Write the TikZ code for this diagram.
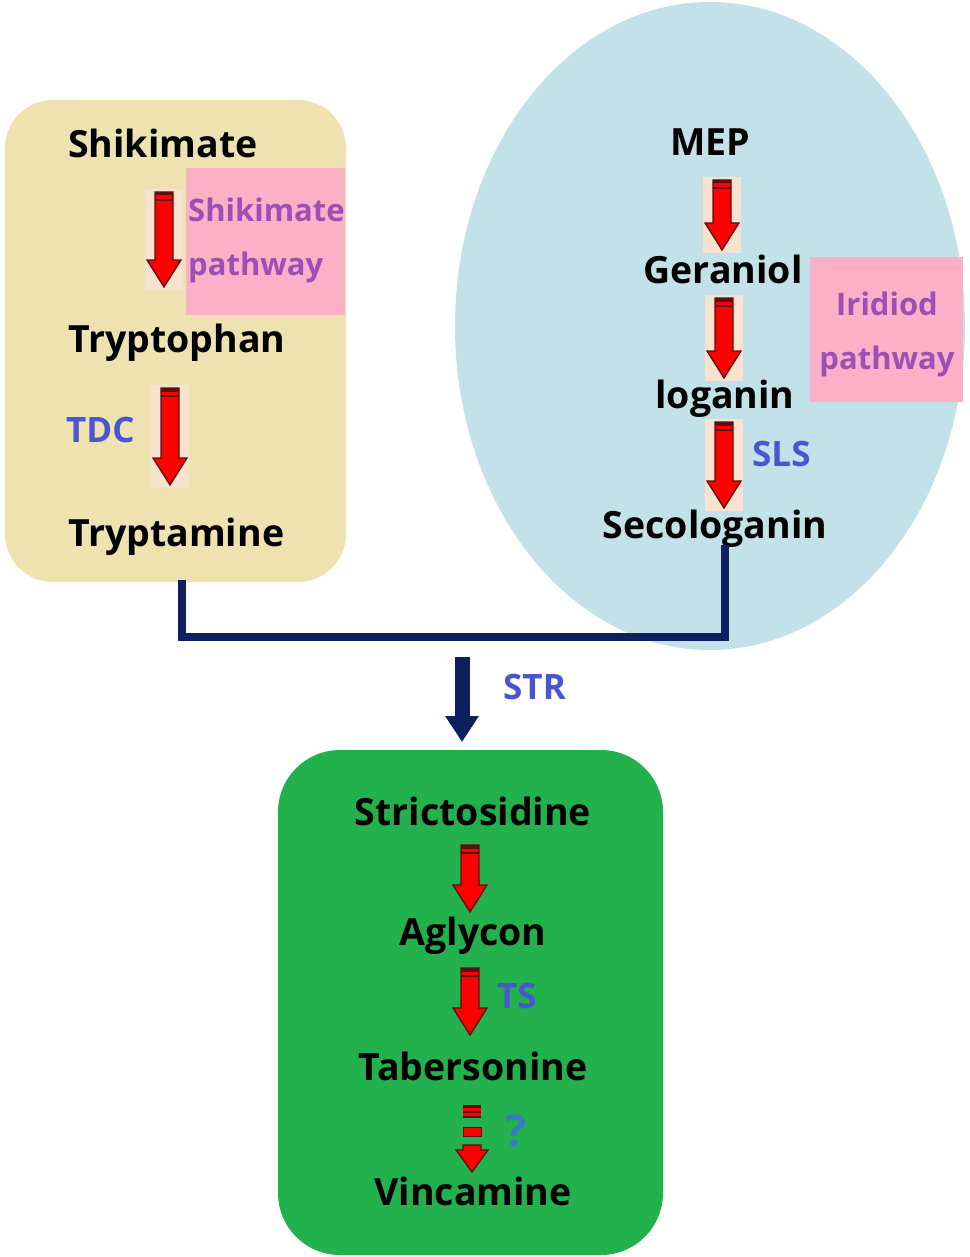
\documentclass[tikz,border=0pt]{standalone}
\usepackage{fontspec}
\setmainfont{Open Sans}
\usetikzlibrary{arrows.meta,calc}
\definecolor{beige}{HTML}{EEE2B0}
\definecolor{lblue}{HTML}{C3E1E8}
\definecolor{grn}{HTML}{22B14C}
\definecolor{pinkbox}{HTML}{FBB0C8}
\definecolor{purp}{HTML}{9C4FB5}
\definecolor{enz}{HTML}{4A55D0}
\definecolor{navy}{HTML}{0F2060}
\definecolor{qblue}{HTML}{3A78C4}
\definecolor{peach}{HTML}{F6E2CF}
\definecolor{arrdark}{HTML}{5A1010}
\tikzset{
  comp/.style={font=\fontsize{37.5}{40}\selectfont\bfseries, text=black, inner sep=0pt},
  enzlab/.style={font=\fontsize{35}{38}\selectfont\bfseries, text=enz, inner sep=0pt},
  pathlab/.style={font=\fontsize{31}{34}\selectfont\bfseries, text=purp, inner sep=0pt},
  navyline/.style={draw=navy, line width=8pt, line join=miter},
}
\newcommand\redarr[4]{%
  \begin{scope}[shift={(#2,0)}]
    \fill[#1] (-19,#3-3) rectangle (19,#4+3);
    \filldraw[fill=red, draw=arrdark, line width=1.3pt, line join=miter]
      (-9,#3) -- (9,#3) -- (9,#4-27) -- (17,#4-27) -- (0,#4) -- (-17,#4-27) -- (-9,#4-27) -- cycle;
    \fill[arrdark] (-9,#3) rectangle (9,#3+3.5);
    \fill[arrdark] (-9,#3+7) rectangle (9,#3+9);
  \end{scope}}
\begin{document}
\begin{tikzpicture}[x=1pt,y=-1pt]
\useasboundingbox (0,0) rectangle (969,1257);
% containers
\fill[beige, rounded corners=48pt] (5,100) rectangle (346,582);
\fill[lblue] (710,326) ellipse [x radius=255pt, y radius=324pt];
\fill[grn, rounded corners=62pt] (278,750) rectangle (663,1255);
% pathway labels
\fill[pinkbox] (186,168) rectangle (345,315);
\node[pathlab, anchor=base west] (shp1) at (188,222) {Shikimate};
\node[pathlab, anchor=base west] (shp2) at (188,276) {pathway};
\fill[pinkbox] (810,257) rectangle (963,402);
\node[pathlab, anchor=base] (irp1) at (887,315) {Iridiod};
\node[pathlab, anchor=base] (irp2) at (887,369) {pathway};
% left column
\node[comp, anchor=base west] (shik) at (68,158) {Shikimate};
\node[comp, anchor=base west] (trpo) at (68,352) {Tryptophan};
\node[comp, anchor=base west] (trpa) at (68,546) {Tryptamine};
\node[enzlab, anchor=base west] (tdc) at (66,442) {TDC};
\redarr{peach}{164}{192}{287}
\redarr{peach}{170}{388}{485}
% right column
\node[comp, anchor=base] (mep) at (710,156) {MEP};
\node[comp, anchor=base] (ger) at (723,283) {Geraniol};
\node[comp, anchor=base] (log) at (725,408) {loganin};
\node[comp, anchor=base] (seco) at (715,538) {Secologanin};
\node[enzlab, anchor=base west] (sls) at (752,466) {SLS};
\redarr{peach}{722}{180}{250}
\redarr{peach}{724}{298}{378}
\redarr{peach}{724}{422}{508}
% connector
\coordinate (c1) at (182,580);
\coordinate (c2) at (725,545);
\draw[navyline] (c1) -- (182,637) -| (c2);
\coordinate (s1) at (462,657);
\coordinate (s2) at (462,742);
\draw[draw=navy, line width=15pt, -{Triangle[width=32pt,length=26pt]}] (s1) -- (s2);
\node[enzlab, anchor=base west] (str) at (503,699) {STR};
% green box
\node[comp, anchor=base] (stri) at (473,825) {Strictosidine};
\node[comp, anchor=base] (agly) at (473,945) {Aglycon};
\node[comp, anchor=base] (tabe) at (473,1080) {Tabersonine};
\node[comp, anchor=base] (vinc) at (473,1205) {Vincamine};
\node[enzlab, anchor=base west] (ts) at (497,1008) {TS};
\node[font=\fontsize{44}{46}\selectfont\bfseries, text=qblue, inner sep=0pt, anchor=base west] (q) at (505,1146) {?};
\redarr{grn}{470}{845}{912}
\redarr{grn}{470}{968}{1035}
% dashed arrow
\begin{scope}[shift={(472,0)}]
  \fill[red] (-9,1105) rectangle (9,1118);
  \fill[arrdark] (-9,1105) rectangle (9,1107.5);
  \fill[arrdark] (-9,1110.5) rectangle (9,1112.5);
  \fill[arrdark] (-9,1115.5) rectangle (9,1118);
  \filldraw[fill=red, draw=arrdark, line width=1pt] (-9,1127) rectangle (9,1136);
  \filldraw[fill=red, draw=arrdark, line width=1.3pt, line join=miter]
    (-9,1145) -- (9,1145) -- (9,1150) -- (16,1150) -- (0,1172) -- (-16,1150) -- (-9,1150) -- cycle;
\end{scope}
\end{tikzpicture}
\end{document}
